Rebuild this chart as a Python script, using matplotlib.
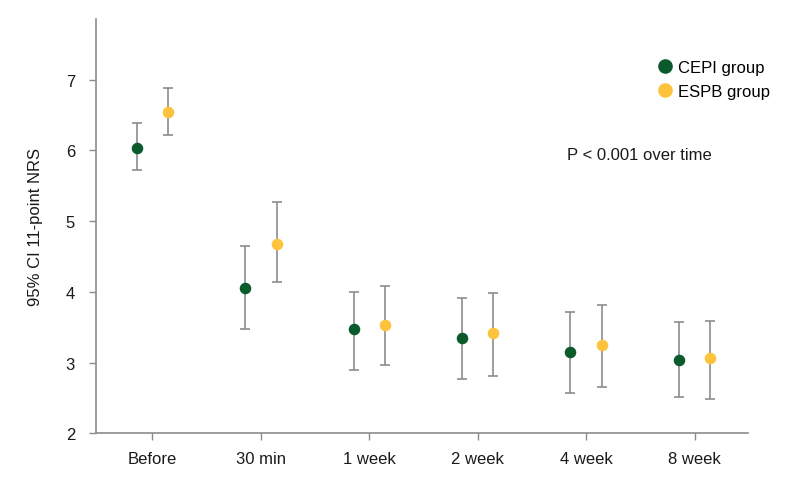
import numpy as np
from matplotlib import pyplot as plt
from matplotlib.lines import Line2D

plt.rcParams['font.family'] = ['Liberation Sans', 'DejaVu Sans']

# Data
timepoints = ['Before', '30 min', '1 week', '2 week', '4 week', '8 week']

cepi_mean = [6.04, 4.06, 3.47, 3.35, 3.15, 3.04]
cepi_low = [5.73, 3.47, 2.90, 2.77, 2.57, 2.52]
cepi_high = [6.39, 4.65, 4.00, 3.92, 3.72, 3.57]

espb_mean = [6.54, 4.68, 3.53, 3.42, 3.25, 3.07]
espb_low = [6.22, 4.14, 2.96, 2.81, 2.66, 2.48]
espb_high = [6.88, 5.27, 4.09, 3.99, 3.82, 3.59]

green = '#0b5a2c'
yellow = '#fdc33c'
grey = '#8c8c8c'
text_color = '#1a1a1a'

fig = plt.figure(figsize=(7.99, 4.85), dpi=100)
ax = fig.add_axes([0.12, 0.1045, 0.816, 0.8543])

x = np.arange(len(timepoints))
offset = 0.145

groups = [
    (cepi_mean, cepi_low, cepi_high, green, -offset),
    (espb_mean, espb_low, espb_high, yellow, offset),
]

for mean, low, high, color, dx in groups:
    mean = np.array(mean)
    yerr = [mean - np.array(low), np.array(high) - mean]
    ax.errorbar(x + dx, mean, yerr=yerr, fmt='none', ecolor=grey,
                elinewidth=1.2, capsize=3.5, capthick=1.2, zorder=1)
    ax.plot(x + dx, mean, 'o', color=color, markersize=7.3, zorder=2)

ax.set_xlim(-0.52, 5.49)
ax.set_ylim(2, 7.86)
ax.set_xticks(x)
ax.set_xticklabels(timepoints)
ax.set_yticks([2, 3, 4, 5, 6, 7])

for side in ['top', 'right']:
    ax.spines[side].set_visible(False)
for side in ['left', 'bottom']:
    ax.spines[side].set_color(grey)
    ax.spines[side].set_linewidth(1.2)

ax.tick_params(axis='both', colors=grey, labelcolor=text_color,
               labelsize=12, length=5, width=1)
ax.tick_params(axis='x', pad=8)
ax.tick_params(axis='y', pad=10)

ax.set_ylabel('95% CI 11-point NRS', fontsize=12, color=text_color, labelpad=16)

handles = [
    Line2D([], [], marker='o', linestyle='none', color=green, markersize=9.5),
    Line2D([], [], marker='o', linestyle='none', color=yellow, markersize=9.5),
]
ax.legend(handles, ['CEPI group', 'ESPB group'], loc='center left',
          bbox_to_anchor=(0.86, 0.854), frameon=False, fontsize=12,
          borderpad=0, borderaxespad=0, handletextpad=0.3,
          labelspacing=0.57, handlelength=1.0)

ax.text(0.7225, 0.672, 'P < 0.001 over time', transform=ax.transAxes,
        fontsize=12, color=text_color, ha='left', va='center')

plt.savefig('out.png', dpi=100)
